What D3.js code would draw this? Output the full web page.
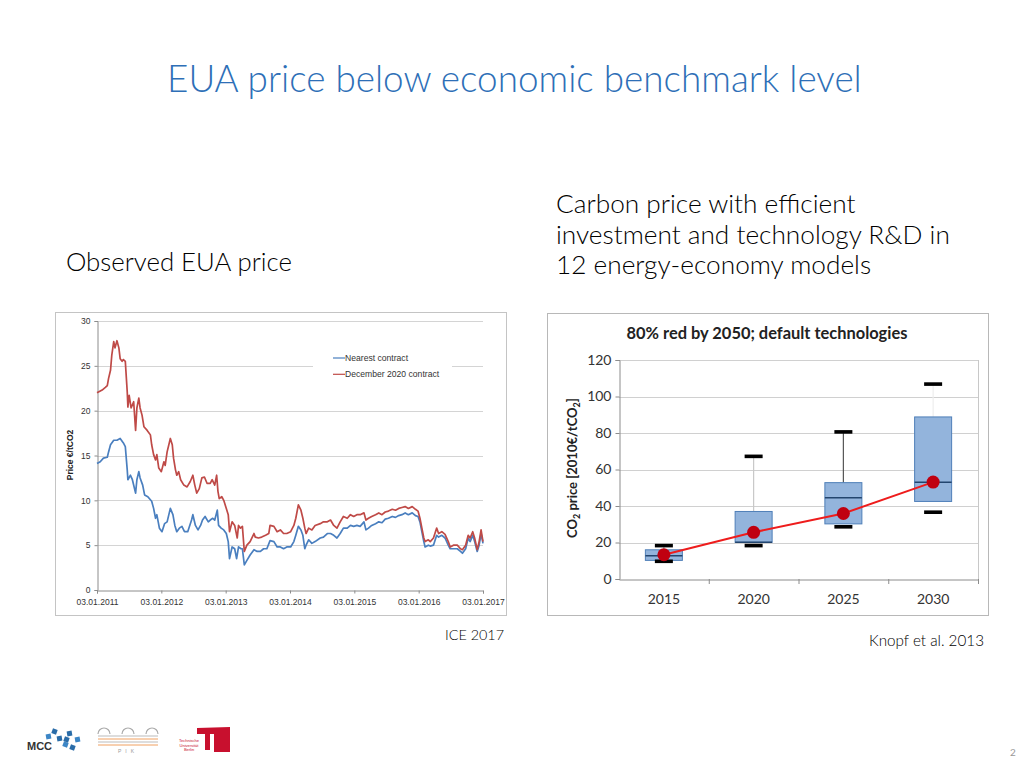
<!DOCTYPE html>
<html><head><meta charset="utf-8">
<script src="https://cdn.jsdelivr.net/npm/d3@7"></script>
<style>html,body{margin:0;padding:0;background:#fff;}svg{display:block;}</style>
</head><body>
<svg id="s" width="1024" height="768"></svg>
<script>
// ---------- DATA ----------
// Left chart: observed EUA prices (decimal years from 03.01.2011)
const dec2020Years = [0.00,0.08,0.13,0.16,0.18,0.21,0.23,0.26,0.28,0.31,0.34,0.36,0.39,0.41,0.44,0.47,0.48,0.50,0.53,0.57,0.60,0.62,0.65,0.67,0.70,0.73,0.78,0.83,0.85,0.88,0.91,0.93,0.96,1.00,1.04,1.06,1.09,1.14,1.17,1.19,1.22,1.24,1.27,1.30,1.35,1.40,1.45,1.49,1.52,1.55,1.59,1.63,1.67,1.71,1.76,1.79,1.83,1.86,1.88,1.90,1.94,1.97,2.01,2.04,2.06,2.10,2.14,2.18,2.20,2.23,2.26,2.29,2.33,2.38,2.44,2.46,2.51,2.56,2.62,2.67,2.69,2.75,2.80,2.85,2.90,2.95,3.01,3.06,3.09,3.13,3.17,3.20,3.23,3.25,3.29,3.34,3.39,3.47,3.52,3.58,3.63,3.68,3.73,3.78,3.83,3.89,3.94,3.99,4.04,4.09,4.15,4.18,4.22,4.27,4.33,4.38,4.43,4.48,4.53,4.59,4.64,4.69,4.74,4.79,4.84,4.90,4.95,4.99,5.02,5.05,5.08,5.10,5.15,5.18,5.23,5.28,5.31,5.36,5.41,5.46,5.49,5.54,5.60,5.65,5.68,5.73,5.77,5.80,5.84,5.87,5.91,5.94,5.97,6.00];
const dec2020Prices = [22.0,22.3,22.6,22.8,23.6,24.5,26.2,27.7,27.0,27.8,27.0,25.8,25.5,25.7,25.5,22.1,20.4,21.7,20.3,21.0,17.8,20.3,21.4,20.3,19.5,18.2,17.8,17.3,16.2,15.1,14.5,15.1,13.6,13.2,14.3,13.9,15.4,16.9,16.2,14.7,13.4,12.8,13.2,12.3,11.7,11.5,12.1,12.8,11.7,10.8,11.3,12.5,12.6,11.9,11.9,12.3,11.7,12.8,11.0,10.2,10.4,10.0,9.1,8.4,6.5,7.6,7.2,5.8,7.2,6.9,7.1,4.3,5.0,5.4,6.3,5.9,5.8,5.9,6.1,6.3,7.2,7.1,6.5,6.7,6.3,6.3,6.5,7.2,8.0,9.5,8.9,8.0,6.9,6.3,6.9,6.7,7.2,7.4,7.6,7.6,7.8,7.2,6.9,7.6,8.2,8.0,8.4,8.2,8.4,8.4,8.6,7.8,8.0,8.2,8.4,8.6,8.4,8.7,8.8,9.0,8.9,9.1,9.2,9.3,9.1,9.3,9.0,8.8,8.0,6.9,5.8,5.4,5.6,5.4,5.8,6.9,6.3,6.5,6.2,5.4,4.8,5.0,5.0,4.6,4.5,5.0,6.1,5.8,6.5,5.8,4.5,5.4,6.7,5.4];
const nearestYears = [0.00,0.05,0.10,0.16,0.18,0.21,0.26,0.31,0.36,0.41,0.44,0.47,0.48,0.52,0.55,0.60,0.62,0.65,0.67,0.71,0.74,0.79,0.85,0.88,0.91,0.93,0.97,1.01,1.05,1.09,1.14,1.18,1.21,1.24,1.28,1.32,1.36,1.41,1.47,1.49,1.53,1.57,1.61,1.64,1.68,1.73,1.76,1.80,1.83,1.87,1.89,1.93,1.97,2.01,2.04,2.06,2.10,2.14,2.17,2.20,2.24,2.26,2.29,2.33,2.38,2.44,2.49,2.54,2.59,2.64,2.69,2.75,2.80,2.85,2.90,2.95,3.01,3.06,3.09,3.13,3.17,3.20,3.23,3.25,3.29,3.34,3.39,3.47,3.52,3.58,3.63,3.68,3.73,3.78,3.83,3.89,3.94,3.99,4.04,4.09,4.15,4.18,4.22,4.27,4.33,4.38,4.43,4.48,4.53,4.59,4.64,4.69,4.74,4.79,4.84,4.90,4.95,4.99,5.02,5.05,5.08,5.10,5.15,5.18,5.23,5.28,5.31,5.36,5.41,5.46,5.49,5.54,5.60,5.65,5.68,5.73,5.77,5.80,5.84,5.87,5.91,5.94,5.97,6.00];
const nearestPrices = [14.1,14.3,14.7,14.8,15.4,16.2,16.7,16.7,16.9,16.4,16.0,13.4,12.3,12.8,12.3,10.8,12.3,13.2,12.5,11.7,10.6,10.4,9.9,9.1,8.0,8.4,6.9,6.5,7.4,7.6,9.1,8.4,7.2,6.5,6.9,7.1,6.5,6.5,7.8,8.4,7.2,6.7,7.2,7.8,8.2,7.6,7.8,8.0,7.8,8.9,7.2,6.9,6.7,6.3,5.4,3.5,4.8,4.6,3.5,4.8,4.6,4.6,2.8,3.3,3.9,4.5,4.3,4.3,4.6,4.6,5.5,5.4,4.8,4.8,4.6,4.8,4.8,5.4,6.1,7.1,6.7,6.1,4.6,5.0,5.6,5.2,5.4,5.8,5.9,6.3,6.3,6.1,5.8,6.3,6.9,6.9,7.2,7.1,7.2,7.1,7.6,6.7,6.9,7.2,7.4,7.6,7.5,7.9,8.0,8.2,8.1,8.3,8.4,8.6,8.4,8.6,8.3,8.2,7.6,6.5,5.4,4.8,5.0,4.9,5.0,6.1,5.9,6.1,5.8,5.0,4.6,4.6,4.6,4.3,4.1,4.6,5.8,5.4,6.1,5.4,4.3,5.0,6.3,5.2];
const euaSeriesNames = ["Nearest contract", "December 2020 contract"];
const euaDateTicks = ["03.01.2011","03.01.2012","03.01.2013","03.01.2014","03.01.2015","03.01.2016","03.01.2017"];
const euaPriceTicks = [0,5,10,15,20,25,30];

// Right chart: CO2 price in 12 energy-economy models
const modelYears = ["2015","2020","2025","2030"];
const boxMin = [9.7, 18.3, 28.6, 36.6];
const boxQ1 = [10.2, 20.1, 30.2, 42.5];
const boxMedian = [12.8, 20.1, 44.5, 53.0];
const boxQ3 = [16.0, 37.0, 52.8, 88.8];
const boxMax = [18.3, 67.2, 80.6, 106.8];
const boxMean = [13.3, 25.6, 35.9, 53.1];
const co2Ticks = [0,20,40,60,80,100,120];

// ---------- DRAW ----------
const svg = d3.select("#s");
const FONT = "Lato, 'Open Sans', sans-serif";
svg.append("rect").attr("width",1024).attr("height",768).attr("fill","#fff");

function fit(sel, w){
  const n = sel.node(); const cur = n.getComputedTextLength();
  const fs = parseFloat(sel.attr("font-size"));
  sel.attr("font-size", (fs*w/cur).toFixed(2));
}

// Slide texts
fit(svg.append("text").attr("x",167).attr("y",92).attr("font-family",FONT).attr("font-weight",300)
  .attr("font-size",36).attr("fill","#2e6fb7").text("EUA price below economic benchmark level"), 695);
fit(svg.append("text").attr("x",66).attr("y",271).attr("font-family",FONT).attr("font-weight",300)
  .attr("font-size",24).attr("fill","#000").text("Observed EUA price"), 226);
const rl = ["Carbon price with efficient","investment and technology R&D in","12 energy-economy models"];
const rlT = rl.map((t,i)=>svg.append("text").attr("x",556).attr("y",213+i*30.5).attr("font-family",FONT)
  .attr("font-weight",300).attr("font-size",24).attr("fill","#000").text(t));
fit(rlT[1], 394); rlT.forEach(t=>t.attr("font-size", rlT[1].attr("font-size")));
fit(svg.append("text").attr("x",445).attr("y",640).attr("font-family",FONT).attr("font-weight",300)
  .attr("font-size",14).attr("fill","#000").text("ICE 2017"), 59);
fit(svg.append("text").attr("x",869).attr("y",646).attr("font-family",FONT).attr("font-weight",300)
  .attr("font-size",14).attr("fill","#000").text("Knopf et al. 2013"), 115);
svg.append("text").attr("x",1013).attr("y",756).attr("text-anchor","middle").attr("font-family",FONT)
  .attr("font-size",10).attr("fill","#999").text("2");

// ===== Left chart =====
const L = svg.append("g");
L.append("rect").attr("x",55.5).attr("y",312.5).attr("width",451).attr("height",303)
  .attr("fill","#fff").attr("stroke","#c4c4c4");
const xL = d3.scaleLinear().domain([0,6]).range([97,483]);
const yL = d3.scaleLinear().domain([0,30]).range([590,321]);
const tf = "Liberation Sans, Arial, sans-serif";
L.append("g").selectAll("line").data(euaPriceTicks.slice(1)).join("line")
  .attr("x1",97).attr("x2",483).attr("y1",d=>Math.round(yL(d))+0.5).attr("y2",d=>Math.round(yL(d))+0.5)
  .attr("stroke","#d4d4d4").attr("stroke-width",1.2);
const axY = L.append("g").attr("transform","translate(97.5,0)")
  .call(d3.axisLeft(yL).tickValues(euaPriceTicks).tickSize(3).tickPadding(4));
const axX = L.append("g").attr("transform","translate(0,590.5)")
  .call(d3.axisBottom(xL).tickValues(d3.range(euaDateTicks.length)).tickFormat(i=>euaDateTicks[i]).tickSize(3).tickPadding(5));
[axY,axX].forEach(a=>{a.selectAll("path,line").attr("stroke","#8c8c8c");
  a.selectAll("text").attr("font-family",tf).attr("font-size",8.5).attr("fill","#333");});
L.append("text").attr("transform","translate(73,455) rotate(-90)").attr("text-anchor","middle")
  .attr("font-family",tf).attr("font-weight","bold").attr("font-size",8.5).attr("fill","#222").text("Price €/tCO2");
// legend background
L.append("rect").attr("x",313).attr("y",350).attr("width",139).attr("height",32).attr("fill","#fff");
const line = d3.line().x(d=>xL(d[0])).y(d=>yL(d[1]));
const blueC = "#4a7fbf", redC = "#bf4a47";
L.append("path").datum(nearestYears.map((t,i)=>[t,nearestPrices[i]])).attr("d",line)
  .attr("fill","none").attr("stroke",blueC).attr("stroke-width",1.7).attr("stroke-linejoin","round");
L.append("path").datum(dec2020Years.map((t,i)=>[t,dec2020Prices[i]])).attr("d",line)
  .attr("fill","none").attr("stroke",redC).attr("stroke-width",1.7).attr("stroke-linejoin","round");
[blueC, redC].forEach((c,i)=>{
  const yy = 358 + i*16.3;
  L.append("line").attr("x1",333).attr("x2",345).attr("y1",yy).attr("y2",yy).attr("stroke",c).attr("stroke-width",1.2);
  L.append("text").attr("x",345).attr("y",yy+3).attr("font-family",tf).attr("font-size",8.6).attr("fill","#333").text(euaSeriesNames[i]);
});

// ===== Right chart =====
const R = svg.append("g");
R.append("rect").attr("x",547.5).attr("y",313.5).attr("width",441).attr("height",302)
  .attr("fill","#fff").attr("stroke","#b8b8b8");
const xR = d3.scaleBand().domain(modelYears).range([619,978]);
const yR = d3.scaleLinear().domain([0,120]).range([579,360]);
const cf = "Lato, 'Open Sans', sans-serif";
const ttl = R.append("text").attr("x",767).attr("y",339).attr("text-anchor","middle").attr("font-family",cf)
  .attr("font-weight","bold").attr("font-size",15).attr("fill","#222").text("80% red by 2050; default technologies");
fit(ttl, 281);
R.append("g").selectAll("line").data(co2Ticks.slice(1)).join("line")
  .attr("x1",619).attr("x2",978).attr("y1",d=>Math.round(yR(d))+0.5).attr("y2",d=>Math.round(yR(d))+0.5)
  .attr("stroke","#d0d0d0").attr("stroke-width",1);
R.append("line").attr("x1",978.5).attr("x2",978.5).attr("y1",360).attr("y2",579).attr("stroke","#c8c8c8");
const ayR = R.append("g").attr("transform","translate(619.5,0)")
  .call(d3.axisLeft(yR).tickValues(co2Ticks).tickSize(4).tickPadding(4));
const axR = R.append("g").attr("transform","translate(0,579.5)")
  .call(d3.axisBottom(xR).tickSize(0).tickPadding(15));
axR.selectAll(".tick line").remove();
R.append("g").selectAll("line").data(modelYears.slice(1)).join("line")
  .attr("x1",d=>xR(d)+0.5).attr("x2",d=>xR(d)+0.5).attr("y1",579).attr("y2",584).attr("stroke","#8c8c8c");
R.append("line").attr("x1",978.5).attr("x2",978.5).attr("y1",579).attr("y2",584).attr("stroke","#8c8c8c");
[ayR,axR].forEach(a=>{a.selectAll("path,line").attr("stroke","#8c8c8c");
  a.selectAll("text").attr("font-family",cf).attr("font-size",14).attr("fill","#333");});
const yt = R.append("text").attr("transform","translate(577,468) rotate(-90)").attr("text-anchor","middle")
  .attr("font-family",cf).attr("font-weight","bold").attr("font-size",13).attr("fill","#222");
yt.append("tspan").text("CO");
yt.append("tspan").attr("font-size",9).attr("dy",3).text("2");
yt.append("tspan").attr("dy",-3).text(" price [2010€/tCO");
yt.append("tspan").attr("font-size",9).attr("dy",3).text("2");
yt.append("tspan").attr("dy",-3).text("]");

const cx = d => xR(d) + xR.bandwidth()/2;
const bw = 37;
const whiskerColor = {"2015":"#b0b0b0","2020":"#c8c8c8","2025":"#555","2030":"#eeeeee"};
modelYears.forEach((yr,i)=>{
  const g = R.append("g");
  g.append("line").attr("x1",cx(yr)).attr("x2",cx(yr)).attr("y1",yR(boxQ3[i])).attr("y2",yR(boxMax[i]))
    .attr("stroke",whiskerColor[yr]).attr("stroke-width",1.2);
  g.append("rect").attr("x",cx(yr)-bw/2).attr("y",yR(boxQ3[i])).attr("width",bw)
    .attr("height",yR(boxQ1[i])-yR(boxQ3[i])).attr("fill","#93b4dc").attr("stroke","#4f7fb8").attr("stroke-width",1);
  g.append("line").attr("x1",cx(yr)-bw/2).attr("x2",cx(yr)+bw/2).attr("y1",yR(boxMedian[i])).attr("y2",yR(boxMedian[i]))
    .attr("stroke","#23456e").attr("stroke-width",1.5);
  [boxMax[i], boxMin[i]].forEach(v=>{
    g.append("rect").attr("x",cx(yr)-9).attr("y",yR(v)-1.8).attr("width",18).attr("height",3.6).attr("fill","#000");
  });
});
R.append("path").datum(modelYears.map((yr,i)=>[cx(yr), yR(boxMean[i])]))
  .attr("d", d3.line()).attr("fill","none").attr("stroke","#ee1c1c").attr("stroke-width",2);
R.append("g").selectAll("circle").data(modelYears).join("circle")
  .attr("cx",d=>cx(d)).attr("cy",(d,i)=>yR(boxMean[i])).attr("r",6.5).attr("fill","#c00010");

// ===== Logos (approximate) =====
const LG = svg.append("g");
LG.append("text").attr("x",27).attr("y",750).attr("font-family","Liberation Sans, Arial").attr("font-weight","bold")
  .attr("font-size",11).attr("fill","#333").text("MCC");
[[46,734],[52,729],[57,736],[63,742],[67,731],[70,745],[75,737],[64,737]].forEach(([x,y],k)=>{
  LG.append("rect").attr("x",x).attr("y",y).attr("width",5).attr("height",5)
    .attr("transform",`rotate(${k%2?20:-10},${x+2.5},${y+2.5})`).attr("fill", k%3? "#2a6ca8":"#3c86c6");
});
[104,128,152].forEach(x=>{
  LG.append("path").attr("d",`M${x-6},734 A6,6 0 0,1 ${x+6},734`).attr("fill","none").attr("stroke","#aaa").attr("stroke-width",1.2);
});
[736,739,742,745].forEach((y,k)=>{
  LG.append("line").attr("x1",98).attr("x2",158).attr("y1",y).attr("y2",y)
    .attr("stroke",k%2?"#f0a060":"#bbb").attr("stroke-width",1);
});
LG.append("text").attr("x",128).attr("y",753).attr("text-anchor","middle").attr("font-family","Liberation Sans, Arial")
  .attr("font-size",5).attr("fill","#999").attr("letter-spacing",4).text("PIK");
LG.append("path").attr("d","M197,728 L230,727 L230,752 L214,752 L214,734 L210,734 L210,750 L205,750 L205,734 L197,734 Z")
  .attr("fill","#c8102e");
["Technische","Universität","Berlin"].forEach((t,k)=>{
  LG.append("text").attr("x",189).attr("y",742+k*4.5).attr("text-anchor","middle").attr("font-family","Liberation Sans, Arial")
    .attr("font-size",4).attr("fill","#c8102e").text(t);
});
</script>
</body></html>
